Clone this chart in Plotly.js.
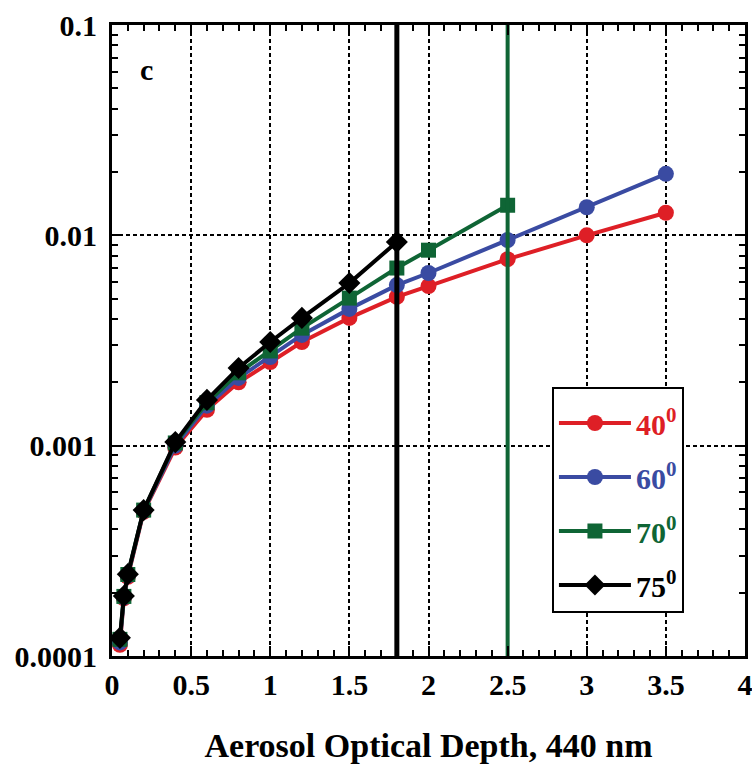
<!DOCTYPE html>
<html>
<head>
<meta charset="utf-8">
<script src="https://cdn.plot.ly/plotly-3.0.1.min.js"></script>
<style>html,body{margin:0;padding:0;background:#fff;}#chart{width:752px;height:766px;}</style>
</head>
<body>
<div id="chart"></div>
<script>
// Aerosol optical depth (440 nm)
const aodAll = [0.05, 0.075, 0.1, 0.2, 0.4, 0.6, 0.8, 1.0, 1.2, 1.5, 1.8, 2.0, 2.5, 3.0, 3.5];
const aod70 = [0.05, 0.075, 0.1, 0.2, 0.4, 0.6, 0.8, 1.0, 1.2, 1.5, 1.8, 2.0, 2.5];
const aod75 = [0.05, 0.075, 0.1, 0.2, 0.4, 0.6, 0.8, 1.0, 1.2, 1.5, 1.8];
// series values
const val40 = [0.000113, 0.000188, 0.000238, 0.000485, 0.00098, 0.00148, 0.00200, 0.00250, 0.00311, 0.00405, 0.00510, 0.00574, 0.0077, 0.0100, 0.0128];
const val60 = [0.000116, 0.000190, 0.000241, 0.000490, 0.00100, 0.00155, 0.00210, 0.00264, 0.00336, 0.00447, 0.00580, 0.00662, 0.0095, 0.0136, 0.0196];
const val70 = [0.000120, 0.000192, 0.000244, 0.000494, 0.00103, 0.00160, 0.00222, 0.00282, 0.00362, 0.00503, 0.00699, 0.00850, 0.0139];
const val75 = [0.000122, 0.000193, 0.000245, 0.000494, 0.00104, 0.00165, 0.00234, 0.00311, 0.00405, 0.00593, 0.00930];
// cutoff lines (vertical)
const cut75X = [1.8, 1.8];
const cut70X = [2.5, 2.5];
const cutY = [0.0001, 0.1];
// labels
const seriesNames = ['40', '60', '70', '75'];
const yTickVals = [0.0001, 0.001, 0.01, 0.1];
const yTickText = ['0.0001', '0.001', '0.01', '0.1'];
const xTickVals = [0, 0.5, 1, 1.5, 2, 2.5, 3, 3.5, 4];
const xTickText = ['0', '0.5', '1', '1.5', '2', '2.5', '3', '3.5', '4'];

const RED = '#DE1F26', BLUE = '#3A4BA2', GREEN = '#0F6535', BLACK = '#000000';
const FONT = 'Liberation Serif, Times New Roman, serif';

function nm(label, color) {
  return '<span style="color:' + color + '">' + label + '<sup>0</sup></span>';
}

const traces = [
  {x: aodAll, y: val40, name: nm(seriesNames[0], RED), legendgroup: 'a', mode: 'lines+markers',
   line: {color: RED, width: 4}, marker: {symbol: 'circle', size: 16, color: RED}},
  {x: aodAll, y: val60, name: nm(seriesNames[1], BLUE), legendgroup: 'b', mode: 'lines+markers',
   line: {color: BLUE, width: 4}, marker: {symbol: 'circle', size: 16, color: BLUE}},
  {x: aod70, y: val70, name: nm(seriesNames[2], GREEN), legendgroup: 'c', mode: 'lines+markers',
   line: {color: GREEN, width: 4}, marker: {symbol: 'square', size: 15, color: GREEN}},
  {x: aod75, y: val75, name: nm(seriesNames[3], BLACK), legendgroup: 'd', mode: 'lines+markers',
   line: {color: BLACK, width: 4}, marker: {symbol: 'diamond', size: 17, color: BLACK}},
  {x: cut75X, y: cutY, mode: 'lines', showlegend: false, hoverinfo: 'skip',
   line: {color: BLACK, width: 5}},
  {x: cut70X, y: cutY, mode: 'lines', showlegend: false, hoverinfo: 'skip',
   line: {color: GREEN, width: 4}}
];

const layout = {
  width: 752, height: 766,
  margin: {l: 112, r: 7, t: 25, b: 110},
  paper_bgcolor: '#fff', plot_bgcolor: '#fff',
  font: {family: FONT, size: 30, color: '#000', weight: 'bold'},
  xaxis: {
    range: [0, 4], tickvals: xTickVals, ticktext: xTickText,
    ticks: 'inside', ticklen: 10, tickwidth: 2, tickcolor: '#000',
    showline: true, linewidth: 3, linecolor: '#000', mirror: 'allticks',
    showgrid: true, gridcolor: '#000', gridwidth: 2, griddash: '4px,3px',
    zeroline: false, ticklabeloverflow: 'allow',
    tickfont: {family: FONT, size: 30, weight: 'bold'},
    minor: {dtick: 0.1, ticks: 'inside', ticklen: 6, tickwidth: 2, tickcolor: '#000', showgrid: false},
    title: {text: 'Aerosol Optical Depth, 440 nm', font: {family: FONT, size: 34, weight: 'bold'}, standoff: 34}
  },
  yaxis: {
    type: 'log', range: [-4, -1], tickvals: yTickVals, ticktext: yTickText,
    ticks: 'inside', ticklen: 10, tickwidth: 2, tickcolor: '#000',
    showline: true, linewidth: 3, linecolor: '#000', mirror: 'allticks',
    showgrid: true, gridcolor: '#000', gridwidth: 2, griddash: '4px,3px',
    zeroline: false, ticklabeloverflow: 'allow',
    tickfont: {family: FONT, size: 30, weight: 'bold'},
    ticklabelstandoff: 6,
    minor: {tickvals: [0.0002,0.0003,0.0004,0.0005,0.0006,0.0007,0.0008,0.0009,
                       0.002,0.003,0.004,0.005,0.006,0.007,0.008,0.009,
                       0.02,0.03,0.04,0.05,0.06,0.07,0.08,0.09],
            ticks: 'inside', ticklen: 6, tickwidth: 2, tickcolor: '#000', showgrid: false}
  },
  showlegend: true,
  legend: {
    x: 0.695, y: 0.426, xanchor: 'left', yanchor: 'top',
    bgcolor: '#fff', bordercolor: '#000', borderwidth: 2,
    font: {family: FONT, size: 30, weight: 'bold'},
    title: {text: ' ', font: {size: 6}},
    tracegroupgap: 12, itemwidth: 72
  },
  annotations: [
    {text: 'c', xref: 'paper', yref: 'paper', x: 0.055, y: 0.929, xanchor: 'center', yanchor: 'middle',
     showarrow: false, font: {family: FONT, size: 30, weight: 'bold', color: '#000'}}
  ]
};

Plotly.newPlot('chart', traces, layout, {displayModeBar: false, staticPlot: true});
</script>
</body>
</html>
